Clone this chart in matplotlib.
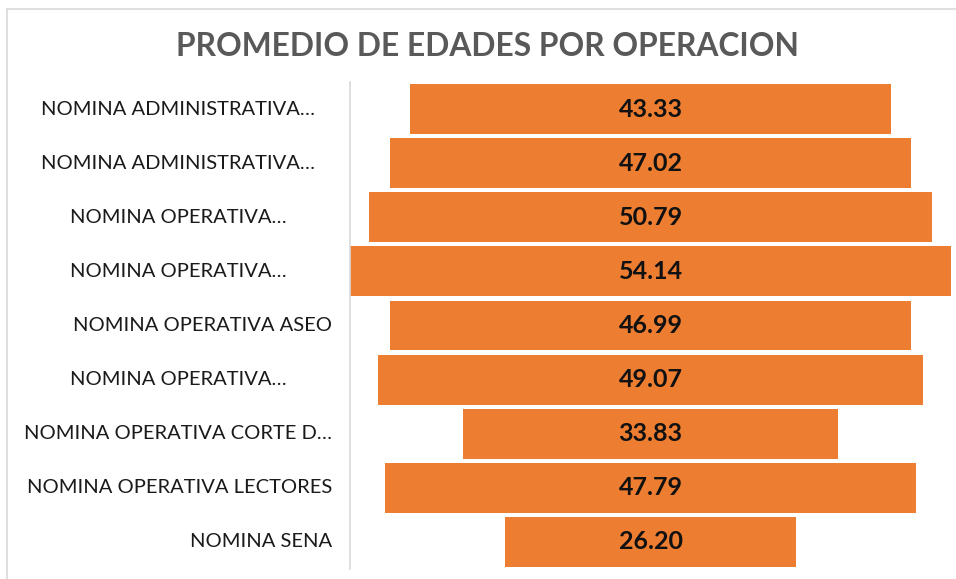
import matplotlib
matplotlib.use("Agg")
import matplotlib.pyplot as plt
from matplotlib.transforms import blended_transform_factory
from matplotlib.lines import Line2D

categories = [
    "NOMINA ADMINISTRATIVA...",
    "NOMINA ADMINISTRATIVA...",
    "NOMINA OPERATIVA...",
    "NOMINA OPERATIVA...",
    "NOMINA OPERATIVA ASEO",
    "NOMINA OPERATIVA...",
    "NOMINA OPERATIVA CORTE D...",
    "NOMINA OPERATIVA LECTORES",
    "NOMINA SENA",
]
values = [43.33, 47.02, 50.79, 54.14, 46.99, 49.07, 33.83, 47.79, 26.20]
title = "PROMEDIO DE EDADES POR OPERACION"

W, H = 956, 579
fig = plt.figure(figsize=(W / 100, H / 100), dpi=100)
fig.patch.set_facecolor("white")
font = "Lato"

ax = fig.add_axes([350 / W, 1 - 569 / H, 601 / W, 487 / H])
n = len(values)
ypos = list(range(n))
vmax = max(values)
ax.barh(ypos, values, left=[-v / 2 for v in values], height=0.92,
        color="#ED7D31", edgecolor="none")
ax.set_xlim(-vmax / 2, vmax / 2)
ax.set_ylim(n - 0.5, -0.5)
ax.set_xticks([])
ax.set_yticks([])
for s in ["top", "right", "bottom"]:
    ax.spines[s].set_visible(False)
ax.spines["left"].set_color("#D9D9D9")
ax.spines["left"].set_linewidth(1.2)

renderer = fig.canvas.get_renderer()

def fit_size(txt, target_px, weight="normal", start=14):
    t = fig.text(0, 0, txt, fontsize=start, family=font, weight=weight)
    w = t.get_window_extent(renderer).width
    t.remove()
    return start * target_px / w

val_fs = fit_size("33.83", 64, weight="bold")
for y, v in zip(ypos, values):
    ax.text(0, y, f"{v:.2f}", ha="center", va="center", fontsize=val_fs,
            family=font, weight="bold", color="#111111")

lab_fs = fit_size("NOMINA OPERATIVA ASEO", 259)
tr = blended_transform_factory(fig.transFigure, ax.transData)
for y, c in zip(ypos, categories):
    if c.endswith("..."):
        fig.text(178 / W, y, c.replace("...", "\u2026"), transform=tr, ha="center", va="center",
                 fontsize=lab_fs, family=font, color="#1a1a1a")
    else:
        fig.text(332 / W, y, c, transform=tr, ha="right", va="center",
                 fontsize=lab_fs, family=font, color="#1a1a1a")

title_fs = fit_size(title, 627, weight="bold")
fig.text(487 / W, 1 - 47 / H, title, ha="center", va="center", fontsize=title_fs,
         family=font, weight="bold", color="#595959")

# outer chart border (top and left visible)
fig.add_artist(Line2D([7 / W, 1], [1 - 9 / H, 1 - 9 / H], color="#D9D9D9", lw=1.2))
fig.add_artist(Line2D([7 / W, 7 / W], [0, 1 - 9 / H], color="#D9D9D9", lw=1.2))

fig.savefig("out.png", dpi=100, facecolor="white")
